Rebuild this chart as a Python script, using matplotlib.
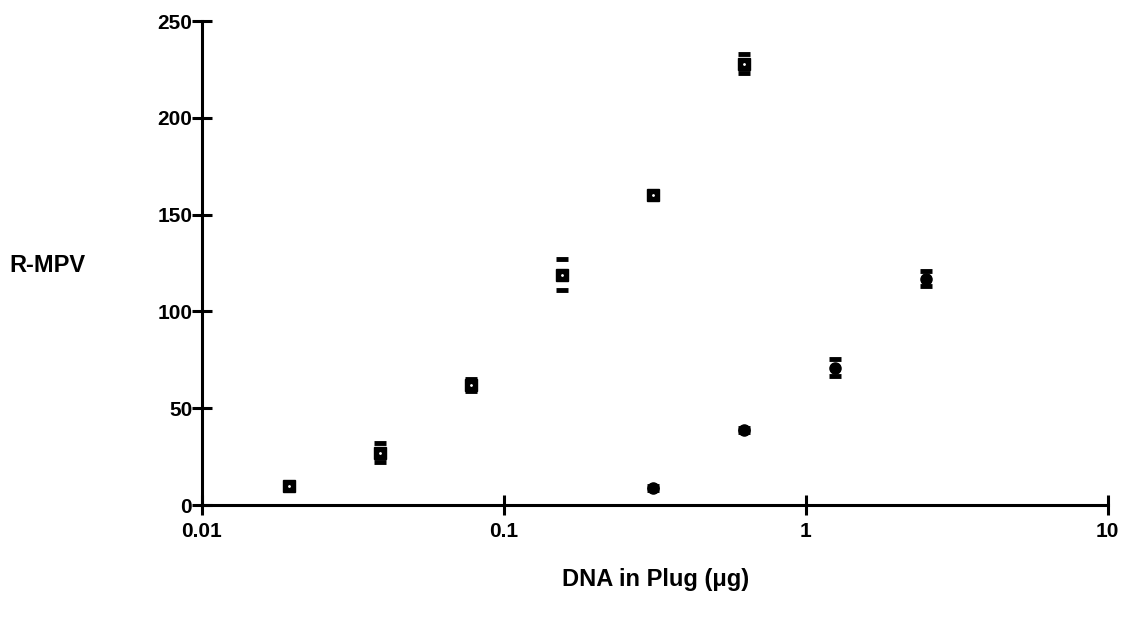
import matplotlib
matplotlib.use("Agg")
import matplotlib.pyplot as plt

plt.rcParams['font.family'] = ['Liberation Sans', 'DejaVu Sans']
plt.rcParams['font.weight'] = 'bold'

# series 1: open squares
s1_x = [0.0195, 0.039, 0.078, 0.156, 0.3125, 0.625]
s1_y = [10, 27, 62, 119, 160, 228]
s1_err = [1, 5, 3, 8, 1, 5]

# series 2: filled circles
s2_x = [0.3125, 0.625, 1.25, 2.5]
s2_y = [9, 39, 71, 117]
s2_err = [1, 1, 4.5, 4]

x_ticks = [0.01, 0.1, 1, 10]
x_tick_labels = ['0.01', '0.1', '1', '10']
y_ticks = [0, 50, 100, 150, 200, 250]

fig = plt.figure(figsize=(11.28, 6.22), dpi=100)
ax = fig.add_axes([0.179, 0.188, 0.803, 0.778])

ax.errorbar(s1_x, s1_y, yerr=s1_err, fmt='none', ecolor='black',
            elinewidth=0, capsize=4.5, capthick=3.5)
ax.plot(s1_x, s1_y, 's', color='black', markersize=8)
ax.plot(s1_x, s1_y, 'o', color='white', markersize=1)

ax.errorbar(s2_x, s2_y, yerr=s2_err, fmt='none', ecolor='black',
            elinewidth=0, capsize=4.5, capthick=3.5)
ax.plot(s2_x, s2_y, 'o', color='black', markersize=8)

ax.set_xscale('log')
ax.set_xlim(0.01, 10)
ax.set_ylim(0, 250)
ax.set_xticks(x_ticks)
ax.set_xticklabels(x_tick_labels)
ax.xaxis.set_minor_locator(matplotlib.ticker.NullLocator())
ax.set_yticks(y_ticks)

for s in ['top', 'right']:
    ax.spines[s].set_visible(False)
for s in ['left', 'bottom']:
    ax.spines[s].set_linewidth(2.2)

ax.tick_params(axis='both', direction='inout', length=14, width=2.2,
               labelsize=15)
ax.tick_params(axis='x', pad=5)
ax.tick_params(axis='y', pad=0)
for lab in ax.get_xticklabels() + ax.get_yticklabels():
    lab.set_fontweight('bold')

fig.text(0.008, 0.573, 'R-MPV', fontsize=17, fontweight='bold', va='center')
fig.text(0.581, 0.068, 'DNA in Plug (μg)', fontsize=17, fontweight='bold',
         ha='center', va='center')

fig.savefig('out.png', dpi=100)
